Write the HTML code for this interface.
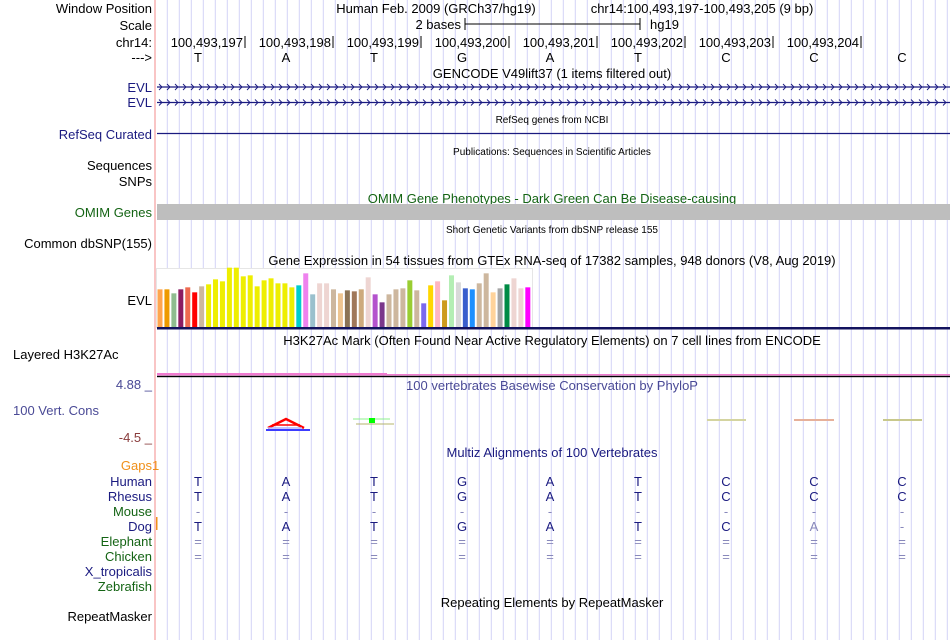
<!DOCTYPE html>
<html><head><meta charset="utf-8">
<style>
html,body{margin:0;padding:0;background:#fff;}
svg{display:block;font-family:"Liberation Sans",Arial,sans-serif;}
</style></head>
<body>
<svg id="chart" width="950" height="640" viewBox="0 0 950 640" xmlns="http://www.w3.org/2000/svg">
<g id="grid"></g>
<line x1="155" y1="0" x2="155" y2="640" stroke="#f7b2b2" stroke-width="1.5"/>

<g font-size="13" fill="#000" text-anchor="end">
<text x="152" y="13">Window Position</text>
<text x="152" y="30">Scale</text>
<text x="152" y="47">chr14:</text>
<text x="152" y="62">---&gt;</text>
<text x="152" y="92" fill="#1a1a80">EVL</text>
<text x="152" y="107" fill="#1a1a80">EVL</text>
<text x="152" y="139" fill="#1a1a80">RefSeq Curated</text>
<text x="152" y="170">Sequences</text>
<text x="152" y="186">SNPs</text>
<text x="152" y="217" fill="#146414">OMIM Genes</text>
<text x="152" y="248">Common dbSNP(155)</text>
<text x="152" y="305">EVL</text>
<text x="13" y="359" text-anchor="start">Layered H3K27Ac</text>
<text x="152" y="389" fill="#4a4a96">4.88 _</text>
<text x="13" y="415" text-anchor="start" fill="#4a4a96">100 Vert. Cons</text>
<text x="152" y="442" fill="#8a3c3c">-4.5 _</text>
<text x="152" y="470" fill="#f0901a">Gaps</text>
<text x="152" y="486" fill="#1a1a80">Human</text>
<text x="152" y="501" fill="#1a1a80">Rhesus</text>
<text x="152" y="516" fill="#146414">Mouse</text>
<text x="152" y="531" fill="#1a1a80">Dog</text>
<text x="152" y="546" fill="#146414">Elephant</text>
<text x="152" y="561" fill="#146414">Chicken</text>
<text x="152" y="576" fill="#1a1a80">X_tropicalis</text>
<text x="152" y="591" fill="#146414">Zebrafish</text>
<text x="152" y="621">RepeatMasker</text>
</g>
<text x="152" y="470" font-size="13" fill="#f0901a">1</text>
<rect x="156" y="517" width="1.5" height="13" fill="#f0901a"/>

<g font-size="13" text-anchor="middle">
<text x="436" y="13">Human Feb. 2009 (GRCh37/hg19)</text>
<text x="702" y="13">chr14:100,493,197-100,493,205 (9 bp)</text>
<text x="552" y="78">GENCODE V49lift37 (1 items filtered out)</text>
<text x="552" y="123" font-size="10">RefSeq genes from NCBI</text>
<text x="552" y="155" font-size="10">Publications: Sequences in Scientific Articles</text>
<text x="552" y="203" fill="#146414">OMIM Gene Phenotypes - Dark Green Can Be Disease-causing</text>
<text x="552" y="233" font-size="10">Short Genetic Variants from dbSNP release 155</text>
<text x="552" y="265">Gene Expression in 54 tissues from GTEx RNA-seq of 17382 samples, 948 donors (V8, Aug 2019)</text>
<text x="552" y="345">H3K27Ac Mark (Often Found Near Active Regulatory Elements) on 7 cell lines from ENCODE</text>
<text x="552" y="390" fill="#4a4a96">100 vertebrates Basewise Conservation by PhyloP</text>
<text x="552" y="457" fill="#1a1a80">Multiz Alignments of 100 Vertebrates</text>
<text x="552" y="607">Repeating Elements by RepeatMasker</text>
</g>

<g>
<text x="461" y="29" font-size="13" text-anchor="end">2 bases</text>
<line x1="465" y1="24" x2="640" y2="24" stroke="#000"/>
<line x1="465" y1="18" x2="465" y2="30" stroke="#000"/>
<line x1="640" y1="18" x2="640" y2="30" stroke="#000"/>
<text x="650" y="29" font-size="13">hg19</text>
</g>

<g id="ruler"></g>
<g id="bases"></g>

<g id="genes"></g>
<line x1="157" y1="133.5" x2="950" y2="133.5" stroke="#1a1a80" stroke-width="1.2"/>
<rect x="157" y="204" width="793" height="16" fill="#bebebe"/>

<g id="gtex"></g>
<rect x="157" y="327" width="793" height="2.5" fill="#12125e"/>

<rect x="157" y="373" width="230" height="2.5" fill="#f07ad0"/>
<rect x="387" y="374" width="563" height="1.5" fill="#f07ad0"/>
<rect x="157" y="375.8" width="793" height="1.4" fill="#000"/>

<g>
<path d="M268,428 L286,419 L304,428" fill="none" stroke="#f00" stroke-width="2.5"/>
<line x1="272" y1="425" x2="300" y2="425" stroke="#f00" stroke-width="1.5"/>
<line x1="266" y1="430" x2="310" y2="430" stroke="#3c3cff" stroke-width="2"/>
<line x1="268" y1="428" x2="302" y2="428" stroke="#b4b4ff" stroke-width="1.5"/>
<line x1="353" y1="419" x2="390" y2="419" stroke="#8cf08c" stroke-width="1"/>
<rect x="369" y="418" width="6" height="5" fill="#0f0"/>
<line x1="356" y1="424" x2="394" y2="424" stroke="#b4b46e" stroke-width="1"/>
<line x1="707" y1="420" x2="746" y2="420" stroke="#d4d4a0" stroke-width="2"/>
<line x1="794" y1="420" x2="834" y2="420" stroke="#e6b09a" stroke-width="2"/>
<line x1="883" y1="420" x2="922" y2="420" stroke="#c8c88c" stroke-width="2"/>
</g>

<g id="multiz"></g>

<script>
const NS='http://www.w3.org/2000/svg';
function mk(tag,attrs,parent,txt){const e=document.createElementNS(NS,tag);for(const k in attrs)e.setAttribute(k,attrs[k]);if(txt!==undefined)e.textContent=txt;parent.appendChild(e);return e;}

const baseLetters=['T','A','T','G','A','T','C','C','C'];
const positionLabels=['100,493,197','100,493,198','100,493,199','100,493,200','100,493,201','100,493,202','100,493,203','100,493,204'];
const rhesusSeq=['T','A','T','G','A','T','C','C','C'];
const mouseSeq=['-','-','-','-','-','-','-','-','-'];
const dogSeq=['T','A','T','G','A','T','C','A','-'];
const elephantSeq=['=','=','=','=','=','=','=','=','='];
const chickenSeq=['=','=','=','=','=','=','=','=','='];
const gtexValues=[113,113,101,113,119,104,122,128,143,137,178,178,152,155,122,140,146,131,131,119,125,161,98,131,131,113,101,110,107,113,149,98,74,98,113,116,140,110,71,125,137,80,155,134,116,113,131,161,104,116,128,146,116,119];
const gtexColors=['#ffa54f','#ee9a00','#8fbc8f','#8b1c62','#ee6a50','#ff0000','#cdb79e','#eeee00','#eeee00','#eeee00','#eeee00','#eeee00','#eeee00','#eeee00','#eeee00','#eeee00','#eeee00','#eeee00','#eeee00','#eeee00','#00cdcd','#ee82ee','#9ac0cd','#eed5d2','#eed5d2','#cdb79e','#eec591','#8b7355','#a0785a','#cdaa7d','#eed5d2','#b452cd','#7a378b','#cdb79e','#cdb79e','#cdb79e','#9acd32','#cdb79e','#7b68ee','#ffd700','#ffb6c1','#cd9b1d','#b4eeb4','#d9d9d9','#3a5fcd','#1e90ff','#cdb79e','#cdb79e','#ffd39b','#a6a6a6','#008b45','#eed5d2','#eed5d2','#ff00ff'];

const baseX=i=>198+88*i;
const gtexMax=180, gtexBase=327, gtexH=60;
const gy=v=>gtexBase-v/gtexMax*gtexH;

const grid=document.getElementById('grid');
for(let x=167.3;x<950;x+=12){
  const l=mk('line',{x1:x,y1:0,x2:x,y2:640,stroke:'#d4d4f7','stroke-width':1},grid);
  
  
}
const ruler=document.getElementById('ruler');
positionLabels.forEach((p,i)=>{
  const tx=245+88*i;
  const t=mk('text',{x:tx-2,y:47,'font-size':13,'text-anchor':'end'},ruler,p);
  
  
  const l=mk('line',{x1:tx,y1:36,x2:tx,y2:48,stroke:'#000'},ruler);
  
  
});
const bases=document.getElementById('bases');
baseLetters.forEach((b,i)=>{
  const t=mk('text',{x:baseX(i),y:62,'font-size':13,'text-anchor':'middle'},bases,b);
  
  
});
const genes=document.getElementById('genes');
[87,102.5].forEach((y,k)=>{
  const g=mk('g',{},genes);
  
  
  mk('line',{x1:157,y1:y,x2:950,y2:y,stroke:'#1a1a80','stroke-width':1.3},g);
  let d='';
  for(let x=159;x<948;x+=8){d+=`M${x},${y-3} L${x+3},${y} L${x},${y+3} `;}
  mk('path',{d:d,fill:'none',stroke:'#1a1a80','stroke-width':0.9},g);
});
const gtex=document.getElementById('gtex');
const frame=mk('rect',{x:156.5,y:268.5,width:376,height:59,fill:'#fff',stroke:'#e6e6e6'},gtex);


gtexValues.forEach((v,i)=>{
  const x=157.5+i*6.94;
  const r=mk('rect',{x:x,y:gy(v),width:5,height:gtexBase-gy(v),fill:gtexColors[i]},gtex);
  
  
});
const mz=document.getElementById('multiz');
const rows=[[baseLetters,486,'#1a1a80'],[rhesusSeq,501,'#1a1a80'],[mouseSeq,516,'#8888bb'],[dogSeq,531,'#1a1a80'],[elephantSeq,546,'#8888bb'],[chickenSeq,561,'#8888bb']];
rows.forEach(([seq,y,c])=>{
  seq.forEach((b,i)=>{
    let col=c;
    if(seq===dogSeq && b!==baseLetters[i]) col='#8888bb';
    const t=mk('text',{x:baseX(i),y:y,'font-size':13,'text-anchor':'middle',fill:col},mz,b);
    
    
  });
});
</script>
</svg>
</body></html>
